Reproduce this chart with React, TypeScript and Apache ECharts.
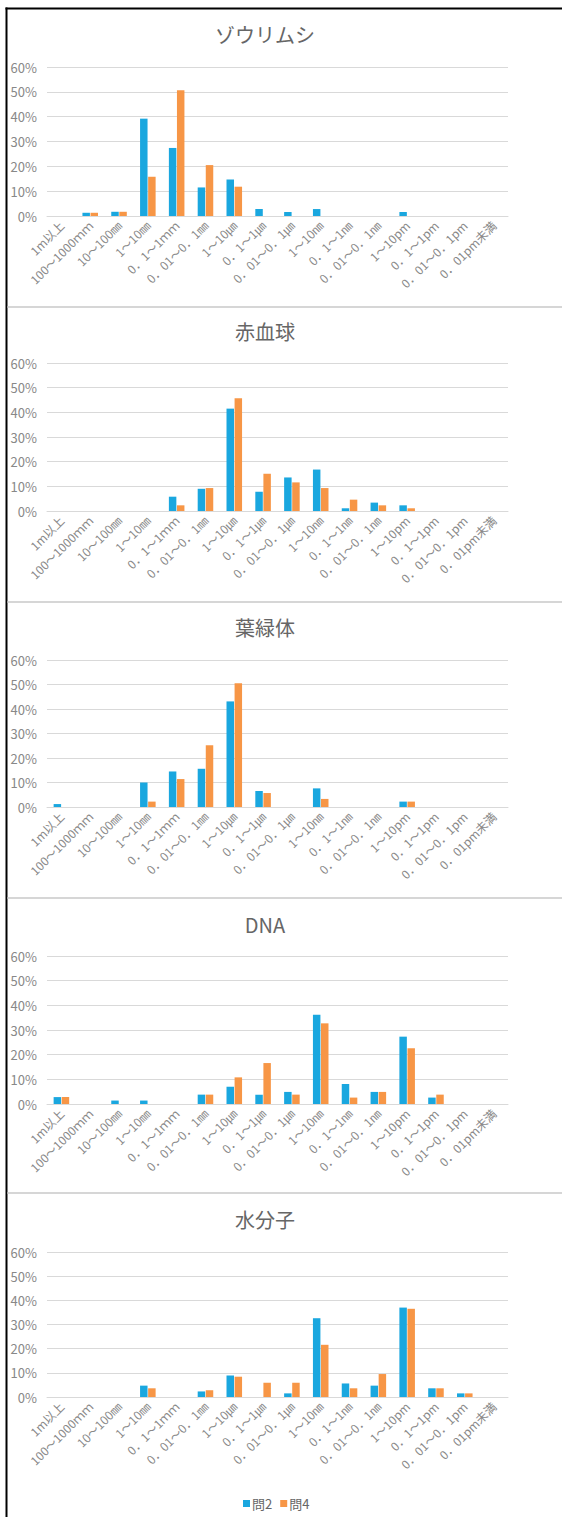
import React, { useEffect, useRef } from 'react';
import * as echarts from 'echarts';

// Size classes on the category axis
const categories = [
  '1m以上', '100～1000ｍｍ', '10～100㎜', '1～10㎜', '0．1～1ｍｍ', '0．01～0．1㎜',
  '1～10㎛', '0．1～1㎛', '0．01～0．1㎛', '1～10㎚', '0．1～1㎚', '0．01～0．1㎚',
  '1～10pm', '0．1～1pm', '0．01～0．1pm', '0．01pm未満',
];

const seriesNames = ['問2', '問4'];
const panelTitles = ['ゾウリムシ', '赤血球', '葉緑体', 'DNA', '水分子'];

// Share of answers (%) per size class
const paramecium2 = [0, 1.3, 1.7, 39.2, 27.4, 11.5, 14.7, 2.8, 1.6, 2.8, 0, 0, 1.6, 0, 0, 0];
const paramecium4 = [0, 1.3, 1.7, 15.8, 50.6, 20.5, 11.8, 0, 0, 0, 0, 0, 0, 0, 0, 0];
const redCell2 = [0, 0, 0, 0, 5.8, 9.0, 41.5, 7.8, 13.6, 16.8, 1.1, 3.4, 2.3, 0, 0, 0];
const redCell4 = [0, 0, 0, 0, 2.3, 9.3, 45.7, 15.1, 11.6, 9.3, 4.6, 2.3, 1.1, 0, 0, 0];
const chloroplast2 = [1.2, 0, 0, 10.0, 14.5, 15.6, 43.1, 6.5, 0, 7.6, 0, 0, 2.2, 0, 0, 0];
const chloroplast4 = [0, 0, 0, 2.2, 11.4, 25.2, 50.5, 5.7, 0, 3.3, 0, 0, 2.2, 0, 0, 0];
const dna2 = [2.8, 0, 1.4, 1.4, 0, 3.8, 7.0, 3.8, 4.9, 36.2, 8.1, 4.9, 27.3, 2.6, 0, 0];
const dna4 = [2.8, 0, 0, 0, 0, 3.8, 10.8, 16.6, 3.8, 32.7, 2.6, 4.9, 22.6, 3.8, 0, 0];
const water2 = [0, 0, 0, 4.7, 0, 2.3, 8.9, 0, 1.5, 32.6, 5.6, 4.7, 37.0, 3.6, 1.5, 0];
const water4 = [0, 0, 0, 3.6, 0, 2.8, 8.4, 5.9, 5.9, 21.6, 3.6, 9.5, 36.5, 3.6, 1.5, 0];

const panelData = [
  [paramecium2, paramecium4],
  [redCell2, redCell4],
  [chloroplast2, chloroplast4],
  [dna2, dna4],
  [water2, water4],
];

// Layout of the stacked panels
const W = 562;
const H = 1517;
const gridTops = [67, 363, 660, 956, 1252];
const gridHeights = [149, 148, 147, 148, 145];
const titleTops = [24, 321, 617, 914, 1209];
const separators = [307, 602, 898, 1193];
const colors = ['#1aa7df', '#f79646'];
const FONT = '"Noto Sans CJK JP", "Noto Sans", sans-serif';

function buildOption() {
  const grids = gridTops.map((top, i) => ({
    left: 47,
    right: 54,
    top,
    height: gridHeights[i],
  }));

  const xAxes = gridTops.map((_, i) => ({
    type: 'category',
    gridIndex: i,
    data: categories,
    axisTick: { show: false },
    axisLine: { lineStyle: { color: '#d9d9d9', width: 1 } },
    axisLabel: {
      interval: 0,
      rotate: 45,
      margin: 7,
      fontSize: 12,
      color: '#888888',
      fontFamily: FONT,
    },
  }));

  const yAxes = gridTops.map((_, i) => ({
    type: 'value',
    gridIndex: i,
    min: 0,
    max: 60,
    interval: 10,
    axisLine: { show: false },
    axisTick: { show: false },
    splitLine: { lineStyle: { color: '#d9d9d9', width: 1 } },
    axisLabel: {
      formatter: '{value}%',
      margin: 10,
      fontSize: 13,
      color: '#888888',
      fontFamily: FONT,
    },
  }));

  const series: any[] = [];
  panelData.forEach((pair, i) => {
    pair.forEach((values, k) => {
      series.push({
        type: 'bar',
        name: seriesNames[k],
        xAxisIndex: i,
        yAxisIndex: i,
        data: values,
        barGap: '8%',
        barCategoryGap: '46%',
        itemStyle: { color: colors[k] },
        emphasis: { disabled: true },
      });
    });
  });

  const titles = panelTitles.map((text, i) => ({
    text,
    left: 265,
    top: titleTops[i],
    textAlign: 'center',
    padding: 0,
    textStyle: {
      fontSize: 20,
      fontWeight: 'normal',
      color: '#666666',
      fontFamily: FONT,
    },
  }));

  // Frame: black rule on the left and top, light rules between panels
  const graphics: any[] = [
    {
      type: 'rect',
      shape: { x: 5.5, y: 7.5, width: 2, height: H - 7.5 },
      style: { fill: '#000' },
    },
    {
      type: 'rect',
      shape: { x: 5.5, y: 7.5, width: W - 5.5, height: 2 },
      style: { fill: '#000' },
    },
    ...separators.map((y) => ({
      type: 'rect',
      shape: { x: 7.5, y: y - 1, width: W - 7.5, height: 2 },
      style: { fill: '#d6d6d6' },
    })),
  ];

  return {
    animation: false,
    backgroundColor: '#ffffff',
    color: colors,
    title: titles,
    grid: grids,
    xAxis: xAxes,
    yAxis: yAxes,
    series,
    legend: {
      data: seriesNames,
      left: 238,
      top: 1492,
      icon: 'rect',
      itemWidth: 7,
      itemHeight: 7,
      itemGap: 8,
      textStyle: { fontSize: 13, color: '#666666', fontFamily: FONT, padding: [0, 0, 0, -3] },
    },
    graphic: graphics,
  };
}

export default function App() {
  const ref = useRef<HTMLDivElement>(null);
  useEffect(() => {
    if (!ref.current) return;
    const chart = echarts.init(ref.current, null, { renderer: 'svg' });
    chart.setOption(buildOption() as any);
    return () => chart.dispose();
  }, []);
  return (
    <div
      ref={ref}
      style={{ position: 'absolute', left: 0, top: 0, width: W, height: H, background: '#fff' }}
    />
  );
}
